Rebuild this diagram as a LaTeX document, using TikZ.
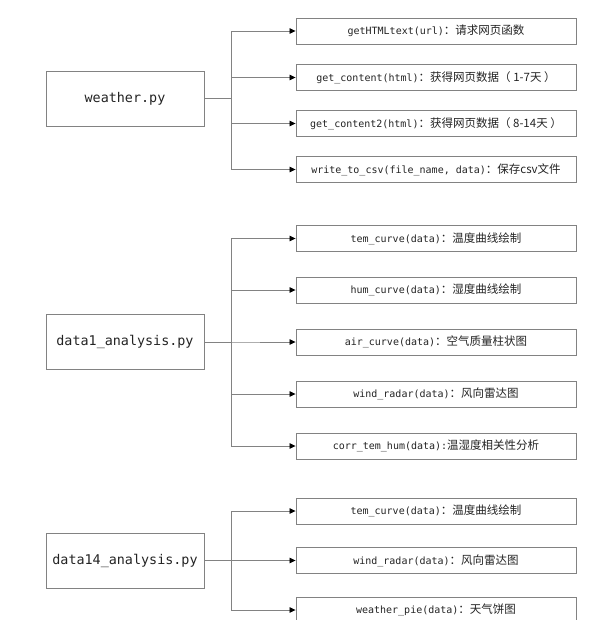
\documentclass[tikz,border=0pt]{standalone}
\usepackage{fontspec}
\usepackage{xcolor}
\setmonofont{DejaVu Sans Mono}
\newfontfamily\cjk{Noto Sans CJK SC}
\definecolor{linegray}{RGB}{130, 130, 130}
\definecolor{textgray}{RGB}{35, 35, 35}
\usetikzlibrary{arrows.meta, positioning}
\newcommand{\fname}[2]{{\ttfamily\fontsize{10}{12}\selectfont #1}{\cjk\fontsize{11.5}{13}\selectfont #2}}

\begin{document}
\begin{tikzpicture}[x=1pt, y=-1pt,
    module/.style={rectangle, draw=linegray, line width=0.9pt, minimum width=158pt, minimum height=55pt, inner sep=0pt, text=textgray, font=\ttfamily\fontsize{13.4}{16}\selectfont},
    func/.style={rectangle, draw=linegray, line width=0.9pt, minimum width=280pt, minimum height=26pt, inner sep=0pt, text=textgray},
    link/.style={draw=linegray, line width=0.8pt, -{Triangle[length=6pt, width=5.5pt, color=black]}}
]
    \useasboundingbox (0,0) rectangle (590,620);

    % weather.py
    \node[module] (weather) at (125, 98.5) {weather.py};
    \node[func] (gethtml) at (436, 31) {\fname{getHTMLtext(url)}{：请求网页函数}};
    \node[func] (getcont) at (436, 77.5) {\fname{get\_content(html)}{：获得网页数据（ 1-7天 ）}};
    \node[func] (getconttwo) at (436, 123.5) {\fname{get\_content2(html)}{：获得网页数据（ 8-14天 ）}};
    \node[func] (tocsv) at (436, 169.5) {\fname{write\_to\_csv(file\_name, data)}{：保存csv文件}};
    \coordinate (jointA) at (231, 98.5);
    \foreach \f in {gethtml, getcont, getconttwo, tocsv}
        \draw[link] (weather.east) -- (jointA) |- (\f.west);

    % data1_analysis.py
    \node[module] (dataone) at (125, 342) {data1\_analysis.py};
    \node[func] (temone) at (436, 238.5) {\fname{tem\_curve(data)}{：温度曲线绘制}};
    \node[func] (humone) at (436, 290) {\fname{hum\_curve(data)}{：湿度曲线绘制}};
    \node[func] (airone) at (436, 342) {\fname{air\_curve(data)}{：空气质量柱状图}};
    \node[func] (windone) at (436, 394) {\fname{wind\_radar(data)}{：风向雷达图}};
    \node[func] (corrone) at (436, 446) {\fname{corr\_tem\_hum(data):}{温湿度相关性分析}};
    \coordinate (jointB) at (231, 342);
    \foreach \f in {temone, humone, airone, windone, corrone}
        \draw[link] (dataone.east) -- (jointB) |- (\f.west);

    % data14_analysis.py
    \node[module] (datafourteen) at (125, 560.5) {data14\_analysis.py};
    \node[func] (temtwo) at (436, 511) {\fname{tem\_curve(data)}{：温度曲线绘制}};
    \node[func] (windtwo) at (436, 560.5) {\fname{wind\_radar(data)}{：风向雷达图}};
    \node[func] (pietwo) at (436, 610) {\fname{weather\_pie(data)}{：天气饼图}};
    \coordinate (jointC) at (231, 560.5);
    \foreach \f in {temtwo, windtwo, pietwo}
        \draw[link] (datafourteen.east) -- (jointC) |- (\f.west);
\end{tikzpicture}
\end{document}
